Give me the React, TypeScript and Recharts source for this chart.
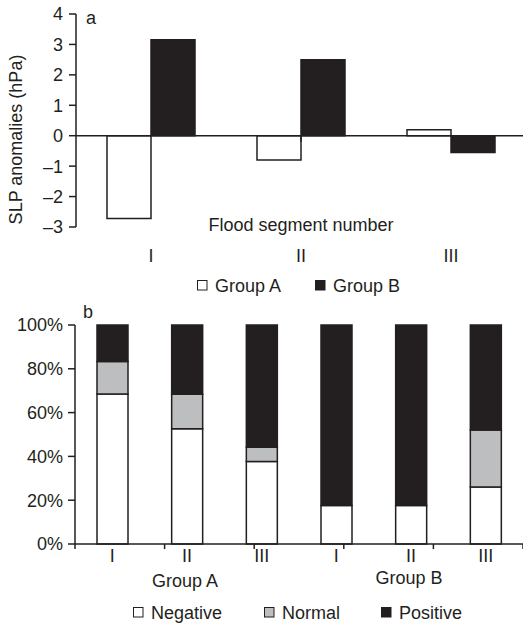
import React from 'react';
import { BarChart, Bar, XAxis, YAxis, ReferenceLine } from 'recharts';

// panel a: SLP anomalies per flood segment
const segments = ['I', 'II', 'III'];
const groupA = [-2.72, -0.8, 0.2];
const groupB = [3.15, 2.5, -0.55];
const slpTicks = [-3, -2, -1, 0, 1, 2, 3, 4];

// panel b: share of negative / normal / positive anomalies
const classGroups = ['Group A', 'Group A', 'Group A', 'Group B', 'Group B', 'Group B'];
const classSegments = ['I', 'II', 'III', 'I', 'II', 'III'];
const negative = [68.5, 52.6, 37.7, 17.6, 17.6, 26.0];
const normal = [14.8, 15.8, 6.5, 0, 0, 26.1];
const positive = [16.7, 31.6, 55.8, 82.4, 82.4, 47.9];
const percentTicks = [0, 20, 40, 60, 80, 100];

const INK = '#231f20';
const GREY = '#bcbec0';
const FONT = '"Liberation Sans", Arial, Helvetica, sans-serif';
const textProps = { fill: INK, fontFamily: FONT, fontSize: 18 };

const slpData = segments.map((s, i) => ({ segment: s, a: groupA[i], b: groupB[i] }));
const classData = classSegments.map((s, i) => ({
  key: `${classGroups[i]}-${s}`,
  segment: s,
  group: classGroups[i],
  negative: negative[i],
  normal: normal[i],
  positive: positive[i],
}));

// category boundaries on a hidden 0..n number axis
const slpBoundaries = segments.slice(1).map((_, i) => i + 1);
const classBoundaries = [0, ...classData.map((_, i) => i + 1)];

const minus = (v: number) => (v < 0 ? `\u2013${Math.abs(v)}` : `${v}`);

const SegmentTick = ({ x, y, payload }: any) => (
  <text x={x} y={y + 35} textAnchor="middle" {...textProps}>
    {payload.value}
  </text>
);

const ClassTick = ({ x, y, payload }: any) => {
  const row = classData[payload.index];
  const showGroup = payload.index % 3 === 1;
  return (
    <g>
      <text x={x} y={y + 18} textAnchor="middle" {...textProps}>
        {row.segment}
      </text>
      {showGroup && (
        <text x={x - 2} y={y + (row.group === 'Group A' ? 43 : 39.5)} textAnchor="middle" {...textProps}>
          {row.group}
        </text>
      )}
    </g>
  );
};

const SlpLabel = () => (
  <text x={21.5} y={139.5} transform="rotate(-90, 21.5, 139.5)" textAnchor="middle" {...textProps}>
    SLP anomalies (hPa)
  </text>
);

const legendA = [
  { name: 'Group A', fill: '#ffffff', x: 197 },
  { name: 'Group B', fill: INK, x: 315 },
];
const legendB = [
  { name: 'Negative', fill: '#ffffff', x: 133 },
  { name: 'Normal', fill: GREY, x: 264 },
  { name: 'Positive', fill: INK, x: 381 },
];

const LegendRow = ({ items, top }: { items: typeof legendA; top: number }) => (
  <g>
    {items.map((it) => (
      <g key={it.name}>
        <rect x={it.x + 0.5} y={top + 0.5} width={9.5} height={9.5} fill={it.fill} stroke={INK} strokeWidth={1} />
        <text x={it.x + 18} y={top + 11.5} {...textProps}>
          {it.name}
        </text>
      </g>
    ))}
  </g>
);

export default function App() {
  return (
    <div style={{ position: 'absolute', left: 0, top: 0, width: 523, height: 623, overflow: 'hidden', background: '#fff' }}>
      <div style={{ position: 'absolute', left: 0, top: 0 }}>
        <BarChart width={526} height={275} data={slpData} margin={{ top: 14, right: 0, bottom: 0, left: 0 }} barGap={0}>
          <XAxis
            xAxisId="cat"
            dataKey="segment"
            height={48}
            axisLine={false}
            tickLine={false}
            tickSize={0}
            tickMargin={0}
            tick={<SegmentTick />}
            interval={0}
            label={{ value: 'Flood segment number', position: 'top', offset: -4, ...textProps }}
          />
          <XAxis xAxisId="num" type="number" domain={[0, segments.length]} hide allowDataOverflow />
          <YAxis
            width={76}
            domain={[-3, 4]}
            ticks={slpTicks}
            interval={0}
            tickFormatter={minus}
            axisLine={{ stroke: INK, strokeWidth: 1.5 }}
            tickLine={{ stroke: INK, strokeWidth: 1.5 }}
            tickSize={7}
            tickMargin={6}
            tick={textProps}
            label={<SlpLabel />}
          />
          <Bar xAxisId="cat" dataKey="a" fill="#ffffff" stroke={INK} strokeWidth={1.5} barSize={44} isAnimationActive={false} />
          <Bar xAxisId="cat" dataKey="b" fill={INK} stroke={INK} strokeWidth={1.5} barSize={44} isAnimationActive={false} />
          <ReferenceLine xAxisId="cat" y={0} stroke={INK} strokeWidth={1.5} />
          {slpBoundaries.map((b) => (
            <ReferenceLine
              key={b}
              xAxisId="num"
              segment={[{ x: b, y: 0 }, { x: b, y: -0.2 }]}
              stroke={INK}
              strokeWidth={1.5}
              ifOverflow="visible"
            />
          ))}
        </BarChart>
      </div>

      <div style={{ position: 'absolute', left: 0, top: 290 }}>
        <BarChart width={523} height={333} data={classData} margin={{ top: 35, right: 0, bottom: 0, left: 0 }} barGap={0}>
          <XAxis
            xAxisId="cat"
            dataKey="key"
            height={79}
            axisLine={{ stroke: INK, strokeWidth: 1.5 }}
            tickLine={false}
            tickSize={0}
            tickMargin={0}
            tick={<ClassTick />}
            interval={0}
          />
          <XAxis xAxisId="num" type="number" domain={[0, classData.length]} hide allowDataOverflow />
          <YAxis
            width={75}
            domain={[0, 100]}
            ticks={percentTicks}
            interval={0}
            tickFormatter={(v: number) => `${v}%`}
            axisLine={{ stroke: INK, strokeWidth: 1.5 }}
            tickLine={{ stroke: INK, strokeWidth: 1.5 }}
            tickSize={7}
            tickMargin={5}
            tick={textProps}
          />
          <Bar xAxisId="cat" dataKey="negative" stackId="s" fill="#ffffff" stroke={INK} strokeWidth={1.5} barSize={31} isAnimationActive={false} />
          <Bar xAxisId="cat" dataKey="normal" stackId="s" fill={GREY} stroke={INK} strokeWidth={1.5} barSize={31} isAnimationActive={false} />
          <Bar xAxisId="cat" dataKey="positive" stackId="s" fill={INK} stroke={INK} strokeWidth={1.5} barSize={31} isAnimationActive={false} />
          {classBoundaries.map((b) => (
            <ReferenceLine
              key={b}
              xAxisId="num"
              segment={[{ x: b, y: 0 }, { x: b, y: -2.3 }]}
              stroke={INK}
              strokeWidth={1.5}
              ifOverflow="visible"
            />
          ))}
        </BarChart>
      </div>

      <svg width={523} height={623} style={{ position: 'absolute', left: 0, top: 0, pointerEvents: 'none' }}>
        <text x={86} y={24} {...textProps}>a</text>
        <text x={83} y={318} {...textProps}>b</text>
        <LegendRow items={legendA} top={280} />
        <LegendRow items={legendB} top={607} />
      </svg>
    </div>
  );
}
